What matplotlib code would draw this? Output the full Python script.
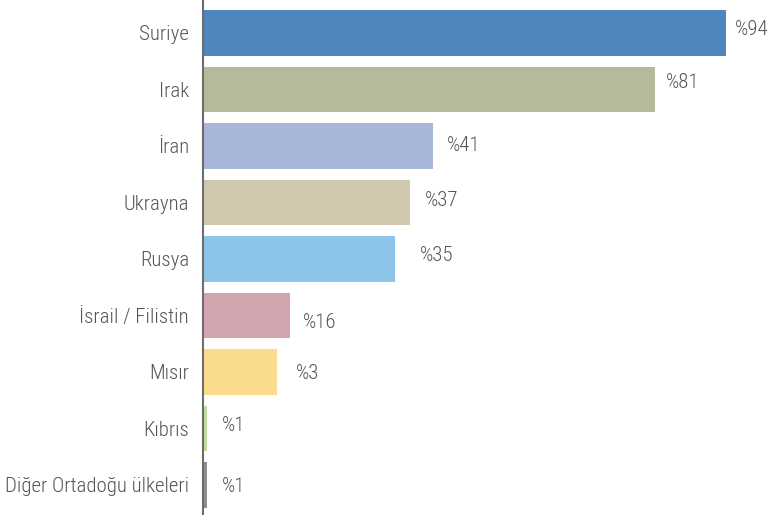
import matplotlib
matplotlib.use('Agg')
import matplotlib.pyplot as plt

ulkeler = ['Suriye', 'Irak', 'İran', 'Ukrayna', 'Rusya', 'İsrail / Filistin',
           'Mısır', 'Kıbrıs', 'Diğer Ortadoğu ülkeleri']
degerler = [94, 81.2, 41.3, 37.2, 34.5, 15.6, 13.3, 0.7, 0.7]
etiketler = ['%94', '%81', '%41', '%37', '%35', '%16', '%3', '%1', '%1']
renkler = ['#4f86be', '#b6ba9a', '#a8b6da', '#cfc7ae', '#8cc4ea',
           '#d2a5ae', '#fbdc8f', '#c0dea0', '#8e8e92']

# etiketlerin orijinaldeki kaymaları (piksel)
kaydir = [(9, 3), (11, 7), (14, 0), (15, 1.5), (25, 3), (13, -7), (19, -2), (15, 3), (15, -2)]

plt.rcParams['font.family'] = ['Roboto Condensed', 'Barlow Condensed', 'Archivo Narrow', 'DejaVu Sans']
plt.rcParams['font.weight'] = 'light'
yazi = '#555555'

fig = plt.figure(figsize=(7.71, 5.15), dpi=100)
ax = fig.add_axes([203 / 771, 0, 1 - 203 / 771, 1])

y = range(len(ulkeler))
ax.barh(y, degerler, height=0.814, color=renkler)

for i, (d, e) in enumerate(zip(degerler, etiketler)):
    dx, dy = kaydir[i]
    ax.annotate(e, (d, i), xytext=(dx, dy), textcoords='offset pixels',
                va='center', ha='left', fontsize=15, color=yazi)

ax.set_xlim(0, 102.1)
ax.set_ylim(8.531, -0.584)
ax.set_yticks(list(y))
ax.set_yticklabels(ulkeler, fontsize=15, color=yazi)
ax.tick_params(axis='y', length=0, pad=10)
ax.set_xticks([])
for s in ['top', 'right', 'bottom']:
    ax.spines[s].set_visible(False)
ax.spines['left'].set_color('#6d6d6d')
ax.spines['left'].set_linewidth(1.5)
ax.spines['left'].set_zorder(3)

fig.savefig('out.png', dpi=100)
